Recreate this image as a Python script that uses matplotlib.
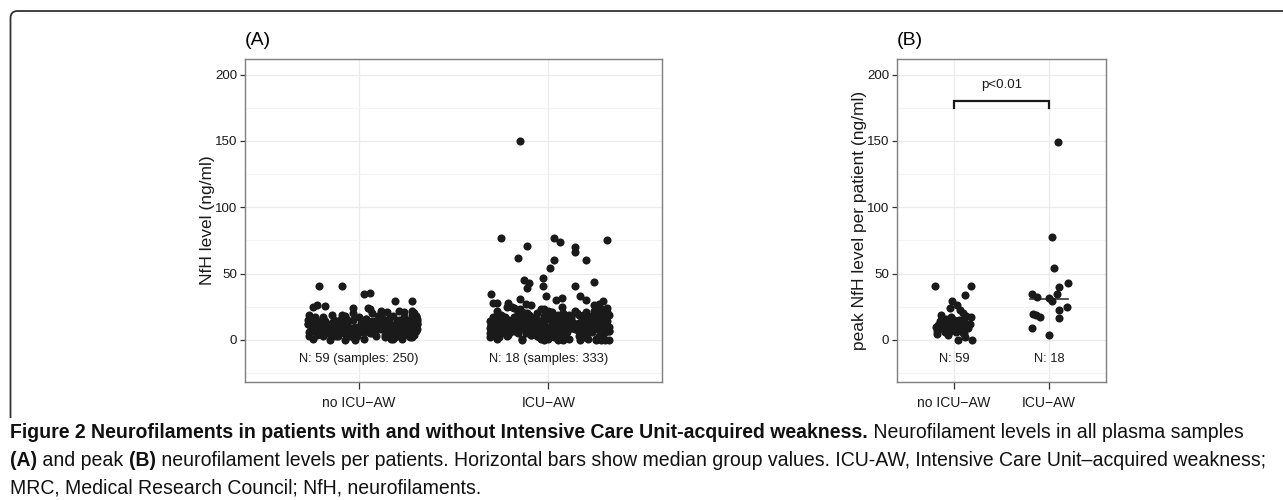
import matplotlib
matplotlib.use('Agg')
import matplotlib.pyplot as plt
from matplotlib import font_manager
from matplotlib.path import Path
from matplotlib.patches import PathPatch
import numpy as np

# ---------------- data ----------------
categories = ['no ICU\u2212AW', 'ICU\u2212AW']
n_labels_a = ['N: 59 (samples: 250)', 'N: 18 (samples: 333)']
n_labels_b = ['N: 59', 'N: 18']
yticks = [0, 50, 100, 150, 200]

# Panel A, no ICU-AW: jitter offsets and values (ng/ml)
a_noaw_x = [
    -0.25, -0.12, 0.03, 0.18, 0.29, -0.19, -0.05, 0.10, 0.22, -0.27,
    0.01, 0.14, 0.27, -0.22, -0.09, 0.06, 0.20, 0.31, -0.15, -0.02,
    0.12, 0.25, -0.24, -0.11, 0.04, 0.17, 0.30, -0.18, -0.06, 0.08,
    0.21, -0.26, -0.13, 0.00, 0.15, 0.28, -0.20, -0.07, 0.09, 0.23,
    -0.23, -0.10, 0.05, 0.19, 0.30, -0.16, -0.03, 0.11, 0.24, -0.26,
    0.02, 0.16, 0.29, -0.21, -0.08, 0.07, 0.20, -0.14, -0.01, 0.13,
    0.26, -0.25, -0.12, 0.04, 0.18, 0.31, -0.17, -0.04, 0.10, 0.22,
    -0.22, -0.09, 0.06, 0.21, 0.28, -0.19, -0.06, 0.08, 0.17, -0.27,
    0.00, 0.13, 0.27, -0.23, -0.11, 0.03, 0.19, 0.30, -0.15, -0.02,
    0.11, 0.24, -0.24, -0.10, 0.05, 0.16, 0.29, -0.18, -0.05, 0.09,
    0.20, -0.26, -0.14, 0.01, 0.14, 0.27, -0.21, -0.08, 0.07, 0.23,
    -0.24, -0.11, 0.04, 0.17, 0.31, -0.16, -0.03, 0.12, 0.25, -0.20,
    0.02, 0.15, 0.28, -0.22, -0.07, 0.08, 0.21, -0.13, 0.00, 0.14,
    0.26, -0.25, -0.10, 0.05, 0.18, 0.30, -0.17, -0.04, 0.10, 0.22,
    -0.21, -0.08, 0.06, 0.19, 0.29, -0.19, -0.06, 0.09, 0.16, -0.27,
    0.01, 0.12, 0.26, -0.23, -0.12, 0.03, 0.20, 0.31, -0.14, -0.01,
    0.11, 0.23, -0.25, -0.09, 0.05, 0.17, 0.28, -0.18, -0.05, 0.08,
    0.21, -0.26, -0.13, 0.02, 0.15, 0.27, -0.20, -0.07, 0.07, 0.24,
    -0.23, -0.10, 0.04, 0.18, 0.30, -0.15, -0.02, 0.13, 0.25, -0.24,
    0.03, 0.16, 0.29, -0.21, -0.09, 0.06, 0.22, -0.12, 0.00, 0.14,
    0.27, -0.25, -0.11, 0.04, 0.19, 0.31, -0.17, -0.03, 0.11, -0.22,
    -0.20, -0.08, 0.07, 0.20, 0.28, -0.18, -0.05, 0.09, 0.17, -0.26,
    -0.24, 0.13, 0.26, -0.22, -0.10, 0.02, 0.18, 0.30, -0.14, 0.00,
    -0.21, -0.09, 0.03, 0.06, 0.19, 0.28, -0.18, -0.03, 0.12, 0.24,
    0.10, 0.23, -0.25, -0.12, 0.05, 0.16, 0.29, -0.19, -0.06, 0.08,
]
a_noaw_y = [
    11, 6, 14, 3, 9, 17, 8, 12, 5, 15,
    10, 2, 13, 7, 19, 9, 4, 16, 11, 6,
    8, 14, 1, 12, 10, 5, 18, 7, 13, 9,
    15, 3, 11, 6, 21, 9, 12, 0, 14, 8,
    7, 13, 10, 4, 16, 11, 2, 9, 17, 6,
    12, 8, 15, 5, 10, 20, 7, 13, 3, 11,
    9, 16, 6, 12, 1, 14, 10, 8, 18, 4,
    13, 7, 11, 22, 9, 5, 15, 10, 2, 12,
    6, 14, 9, 17, 3, 11, 8, 13, 0, 10,
    16, 5, 12, 8, 24, 10, 6, 14, 9, 3,
    11, 19, 7, 13, 4, 15, 9, 12, 6, 1,
    10, 8, 16, 3, 12, 7, 20, 11, 5, 14,
    9, 13, 2, 11, 17, 6, 10, 15, 8, 12,
    4, 14, 10, 7, 18, 12, 5, 9, 16, 11,
    13, 6, 23, 8, 11, 3, 15, 10, 7, 12,
    9, 17, 5, 13, 10, 1, 14, 8, 19, 6,
    12, 4, 11, 15, 7, 10, 22, 9, 3, 13,
    8, 16, 6, 12, 14, 2, 10, 18, 5, 11,
    15, 9, 13, 4, 7, 11, 0, 16, 10, 8,
    6, 12, 20, 9, 14, 5, 11, 3, 17, 10,
    13, 7, 10, 16, 2, 12, 8, 15, 9, 26,
    11, 5, 14, 8, 19, 10, 6, 13, 1, 12,
    25, 9, 12, 4, 15, 7, 11, 18, 3, 10,
    40.6, 40.6, 34.6, 35.5, 29.3, 29.3, 25.6, 24, 22, 21,
    8, 14, 10, 6, 12, 16, 4, 11, 9, 13,
]

# Panel A, ICU-AW: jitter offsets and values (ng/ml)
a_aw_x = [
    -0.29, -0.16, -0.02, 0.12, 0.26, -0.22, -0.08, 0.06, 0.19, 0.31,
    -0.25, -0.11, 0.03, 0.17, 0.30, -0.19, -0.05, 0.09, 0.23, -0.31,
    -0.13, 0.00, 0.14, 0.28, -0.27, -0.09, 0.05, 0.20, 0.32, -0.20,
    -0.04, 0.10, 0.24, -0.30, -0.15, 0.01, 0.15, 0.29, -0.23, -0.07,
    0.07, 0.21, -0.28, -0.12, 0.02, 0.16, 0.27, -0.18, -0.03, 0.11,
    0.25, -0.26, -0.10, 0.04, 0.18, 0.31, -0.21, -0.06, 0.08, 0.22,
    -0.30, -0.14, -0.01, 0.13, 0.27, -0.24, -0.08, 0.06, 0.19, 0.30,
    -0.27, -0.12, 0.02, 0.16, 0.29, -0.20, -0.04, 0.10, 0.24, -0.31,
    -0.17, -0.02, 0.12, 0.26, -0.25, -0.09, 0.05, 0.18, 0.32, -0.22,
    -0.06, 0.08, 0.22, -0.29, -0.14, 0.00, 0.14, 0.28, -0.19, -0.03,
    0.09, 0.23, -0.28, -0.11, 0.03, 0.17, 0.30, -0.16, -0.05, 0.11,
    0.25, -0.26, -0.10, 0.05, 0.19, 0.31, -0.21, -0.07, 0.07, 0.21,
    -0.30, -0.15, 0.00, 0.14, 0.27, -0.23, -0.09, 0.04, 0.18, 0.29,
    -0.26, -0.12, 0.01, 0.15, 0.28, -0.20, -0.05, 0.10, 0.23, -0.31,
    -0.18, -0.03, 0.11, 0.25, -0.24, -0.08, 0.06, 0.20, 0.32, -0.21,
    -0.06, 0.07, 0.21, -0.29, -0.13, 0.02, 0.16, 0.29, -0.17, -0.27,
    0.09, 0.24, -0.27, -0.11, 0.04, 0.18, 0.30, -0.15, -0.02, 0.12,
    0.26, -0.25, -0.09, 0.05, 0.19, 0.31, -0.22, -0.06, 0.08, 0.22,
    -0.29, -0.14, 0.01, 0.13, 0.27, -0.23, -0.07, 0.06, 0.17, 0.30,
    -0.26, -0.11, 0.03, 0.16, 0.29, -0.19, -0.04, 0.10, 0.24, -0.30,
    -0.16, -0.01, 0.12, 0.26, -0.24, -0.09, 0.04, 0.19, 0.32, -0.21,
    -0.05, 0.09, 0.22, -0.28, -0.13, 0.01, 0.15, 0.28, -0.18, -0.02,
    0.08, 0.23, -0.27, -0.10, 0.03, 0.17, 0.31, -0.15, -0.04, 0.11,
    0.25, -0.25, -0.08, 0.05, 0.20, 0.30, -0.22, -0.06, 0.09, 0.21,
    -0.30, -0.13, 0.00, 0.14, 0.28, -0.23, -0.08, 0.05, 0.18, 0.31,
    -0.27, -0.11, 0.02, 0.16, 0.29, -0.20, -0.05, 0.10, 0.24, -0.31,
    -0.17, -0.02, 0.13, 0.26, -0.24, -0.09, 0.06, 0.19, 0.32, -0.20,
    -0.05, 0.08, 0.21, -0.29, -0.14, 0.01, 0.15, 0.28, -0.18, -0.03,
    0.10, 0.24, -0.27, -0.12, 0.04, 0.18, 0.30, -0.16, -0.01, 0.27,
    0.26, -0.26, -0.10, 0.06, 0.20, 0.31, -0.21, -0.07, 0.09, 0.22,
    -0.28, 0.13, 0.00, 0.17,
    -0.15, -0.25, -0.11, 0.03, 0.06, 0.14, 0.31, -0.16, 0.03, 0.14,
    0.20, 0.01, -0.03, -0.13, -0.10, -0.11, -0.03, 0.14, 0.24, -0.30,
    -0.01, 0.07, 0.04, -0.15, -0.21, 0.20, 0.29, -0.29, 0.17,
]
a_aw_y = [
    12, 5, 18, 9, 22, 3, 14, 7, 16, 10,
    8, 20, 2, 13, 6, 25, 11, 4, 17, 9,
    15, 1, 11, 19, 7, 13, 0, 21, 10, 6,
    23, 9, 14, 4, 12, 18, 8, 2, 15, 11,
    6, 16, 10, 27, 3, 13, 20, 7, 12, 1,
    14, 8, 19, 11, 5, 24, 9, 15, 0, 12,
    10, 21, 4, 13, 17, 7, 11, 3, 18, 9,
    2, 15, 12, 6, 22, 10, 14, 8, 26, 5,
    13, 0, 17, 9, 11, 4, 19, 12, 7, 15,
    20, 6, 10, 14, 1, 16, 8, 23, 11, 3,
    9, 18, 5, 12, 15, 0, 13, 21, 7, 10,
    16, 2, 11, 8, 19, 14, 4, 12, 25, 6,
    11, 14, 7, 22, 3, 10, 17, 9, 13, 1,
    5, 12, 20, 8, 15, 11, 2, 18, 10, 14,
    24, 7, 13, 0, 10, 16, 6, 12, 19, 9,
    3, 15, 11, 17, 8, 21, 13, 5, 10, 28,
    12, 9, 1, 14, 7, 18, 11, 23, 4, 16,
    10, 19, 6, 13, 2, 11, 15, 8, 20, 12,
    7, 0, 16, 10, 24, 5, 12, 14, 9, 17,
    13, 11, 4, 19, 8, 15, 1, 10, 22, 6,
    18, 3, 12, 9, 14, 26, 7, 11, 0, 15,
    9, 16, 10, 5, 13, 8, 20, 2, 12, 11,
    14, 6, 22, 11, 17, 3, 10, 15, 8, 19,
    1, 13, 9, 16, 6, 12, 25, 10, 4, 14,
    11, 20, 7, 12, 0, 17, 9, 13, 5, 21,
    15, 8, 11, 3, 18, 10, 14, 6, 12, 2,
    10, 23, 13, 9, 16, 4, 11, 19, 7, 14,
    6, 12, 1, 15, 10, 21, 8, 13, 17, 3,
    12, 9, 18, 5, 14, 11, 0, 16, 10, 27,
    8, 15, 10, 13, 4, 20, 12, 7, 11, 16,
    13, 9, 22, 6,
    150, 77, 71, 77, 74, 70, 75, 62, 60, 66,
    60, 54, 47, 45, 43, 39, 41, 41, 44, 35,
    33, 32, 30, 31, 28, 30, 29, 27.5, 33,
]

# Panel B, peak value per patient
b_noaw_x = [
    -0.20, 0.18, 0.12, -0.02, 0.03, -0.04, 0.06, 0.18, 0.17, -0.18,
    -0.06, 0.04, 0.19, 0.12,
    -0.19, -0.15, -0.12, -0.10, -0.08, -0.05, -0.03, -0.01, 0.01, 0.03,
    0.05, 0.07, 0.09, 0.11, 0.13, 0.15, -0.17, -0.13, -0.07, -0.02,
    0.02, 0.06, 0.10, 0.14, -0.18, -0.11, -0.06, 0.00, 0.04, 0.08,
    0.12, -0.14, -0.09, -0.04, 0.01, 0.05, -0.16, -0.08, -0.03, 0.03,
    0.07, 0.11, -0.12, -0.01, 0.09,
]
b_noaw_y = [
    40.6, 40.6, 33.8, 29.6, 26.3, 23.8, 22.5, 17, 12, 4.5,
    3.8, 0, 0, 2.5,
    10, 14, 8, 12, 16, 6, 11, 9, 13, 7,
    15, 10, 5, 12, 18, 9, 11, 14, 8, 13,
    6, 10, 16, 12, 7, 11, 9, 15, 13, 8,
    10, 19, 6, 12, 14, 9, 11, 7, 17, 10,
    13, 5, 12, 8, 20,
]
b_aw_x = [0.09, 0.03, 0.05, 0.20, 0.11, -0.18, -0.13, 0.00, 0.03, 0.08,
          0.19, 0.10, 0.10, -0.17, -0.14, -0.09, -0.18, 0.00]
b_aw_y = [149, 77.3, 54, 43, 40, 35, 32.6, 32, 29.6, 34.6,
          25, 22.5, 16.3, 19.5, 19, 17.6, 8.8, 3.7]

p_text = 'p<0.01'
bracket_y = [175, 180.5]

caption_lines = [
    [('Figure 2 Neurofilaments in patients with and without Intensive Care Unit-acquired weakness.', 'bold'),
     (' Neurofilament levels in all plasma samples', 'normal')],
    [('(A)', 'bold'), (' and peak ', 'normal'), ('(B)', 'bold'),
     (' neurofilament levels per patients. Horizontal bars show median group values. ICU-AW, Intensive Care Unit\u2013acquired weakness;', 'normal')],
    [('MRC, Medical Research Council; NfH, neurofilaments.', 'normal')],
]

# ---------------- style ----------------
W, H = 1283, 500
DPI = 100
available = {f.name for f in font_manager.fontManager.ttflist}
chart_font = ['Liberation Sans', 'DejaVu Sans'] if 'Liberation Sans' in available else ['DejaVu Sans']
cap_font = ['Liberation Sans Narrow', 'DejaVu Sans'] if 'Liberation Sans Narrow' in available else chart_font
plt.rcParams['font.family'] = chart_font

PT = '#1a1a1a'
fig = plt.figure(figsize=(W / DPI, H / DPI), dpi=DPI)
fig.patch.set_facecolor('white')


def px_rect(l, t, r, b):
    return [l / W, 1 - b / H, (r - l) / W, (b - t) / H]


def style_axes(ax):
    ax.set_ylim(-31.7, 211.8)
    ax.set_xlim(0.4, 2.6)
    ax.set_yticks(yticks)
    ax.set_yticks([-25, 25, 75, 125, 175], minor=True)
    ax.set_xticks([1, 2])
    ax.set_xticklabels(categories)
    ax.grid(True, which='major', color='#ebebeb', lw=0.9, zorder=0)
    ax.grid(True, which='minor', axis='y', color='#f4f4f4', lw=0.8, zorder=0)
    ax.set_axisbelow(True)
    for s in ax.spines.values():
        s.set_color('#7f7f7f')
        s.set_linewidth(1.0)
    ax.tick_params(axis='y', which='major', length=3.5, width=0.9, color='#333333',
                   labelsize=9.6, labelcolor='#1a1a1a', pad=2)
    ax.tick_params(axis='x', which='major', length=5, width=0.9, color='#333333',
                   labelsize=10, labelcolor='#1a1a1a', pad=5)
    ax.tick_params(axis='y', which='minor', length=0)


# Panel A
axA = fig.add_axes(px_rect(245, 59, 662, 382))
style_axes(axA)
axA.scatter(np.array(a_noaw_x) + 1, a_noaw_y, s=34, color=PT, lw=0, zorder=3)
axA.scatter(np.array(a_aw_x) + 2, a_aw_y, s=34, color=PT, lw=0, zorder=3)
for i, lab in enumerate(n_labels_a):
    axA.text(i + 1, -14, lab, ha='center', va='center', fontsize=9.3, color='#1a1a1a')
axA.set_ylabel('NfH level (ng/ml)', fontsize=12.5, color='#1a1a1a', labelpad=0)
axA.text(0.0, 1.03, '(A)', transform=axA.transAxes, fontsize=14, ha='left', va='bottom')

# Panel B
axB = fig.add_axes(px_rect(897, 59, 1106, 382))
style_axes(axB)
for i, (xs, ys) in enumerate([(b_noaw_x, b_noaw_y), (b_aw_x, b_aw_y)]):
    med = np.median(ys)
    axB.plot([i + 1 - 0.2, i + 1 + 0.2], [med, med], color='#333333', lw=1.2, zorder=2)
    axB.scatter(np.array(xs) + i + 1, ys, s=34, color=PT, lw=0, zorder=3)
for i, lab in enumerate(n_labels_b):
    axB.text(i + 1, -14, lab, ha='center', va='center', fontsize=9.3, color='#1a1a1a')
axB.plot([1, 1, 2, 2], [bracket_y[0], bracket_y[1], bracket_y[1], bracket_y[0]],
         color=PT, lw=1.6, solid_joinstyle='miter', zorder=3)
axB.text(1.5, 192, p_text, ha='center', va='center', fontsize=9.6, color='#1a1a1a')
axB.set_ylabel('peak NfH level per patient (ng/ml)', fontsize=12.5, color='#1a1a1a', labelpad=0)
axB.text(0.0, 1.03, '(B)', transform=axB.transAxes, fontsize=14, ha='left', va='bottom')

# Outer frame with rounded top-left corner
fx, fy, r = 10.5, 11.0, 7.0
verts = [(fx, 418), (fx, fy + r), (fx, fy), (fx + r, fy), (W + 5, fy)]
codes = [Path.MOVETO, Path.LINETO, Path.CURVE3, Path.CURVE3, Path.LINETO]
verts_fig = [(x / W, 1 - y / H) for x, y in verts]
fig.patches.append(PathPatch(Path(verts_fig, codes), transform=fig.transFigure,
                             fill=False, edgecolor='#333333', lw=1.3))

# Caption
renderer = fig.canvas.get_renderer()
line_y = [433, 461, 488]


def layout(size):
    texts = []
    widths = []
    for li, segs in enumerate(caption_lines):
        x = 10.0
        for txt, wt in segs:
            t = fig.text(x / W, 1 - line_y[li] / H, txt, fontsize=size, fontweight=wt,
                         family=cap_font, ha='left', va='center', color='#111111')
            bb = t.get_window_extent(renderer)
            x = bb.x1
            texts.append(t)
        widths.append(x - 10.0)
    return texts, widths


texts, widths = layout(10)
scale = 1256.0 / max(widths)
for t in texts:
    t.remove()
layout(10 * scale)

fig.savefig('out.png', dpi=DPI, facecolor='white')
